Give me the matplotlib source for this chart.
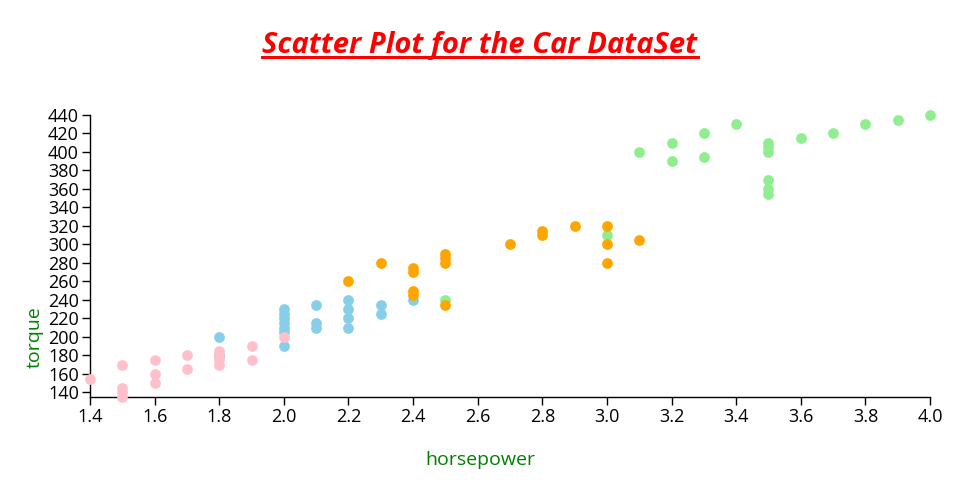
import matplotlib
matplotlib.use("Agg")
import matplotlib.pyplot as plt
from matplotlib.lines import Line2D

plt.rcParams['font.family'] = ['Open Sans', 'DejaVu Sans']

# Data: (horsepower, torque) per group
pink_hp = [1.4, 1.5, 1.5, 1.5, 1.5, 1.6, 1.6, 1.6, 1.7, 1.7, 1.8, 1.8, 1.8, 1.8, 1.9, 1.9, 2.0]
pink_tq = [155, 170, 145, 140, 135, 175, 160, 150, 180, 165, 185, 178, 175, 170, 190, 175, 200]

blue_hp = [1.8, 1.8, 2.0, 2.0, 2.0, 2.0, 2.0, 2.0, 2.0, 2.1, 2.1, 2.1, 2.2, 2.2, 2.2, 2.2, 2.3, 2.3, 2.4]
blue_tq = [200, 180, 230, 225, 220, 215, 210, 205, 190, 235, 215, 210, 240, 230, 220, 210, 235, 225, 240]

orange_hp = [2.2, 2.3, 2.4, 2.4, 2.4, 2.4, 2.5, 2.5, 2.5, 2.5, 2.7, 2.8, 2.8, 2.9, 3.0, 3.0, 3.0, 3.1]
orange_tq = [260, 280, 275, 270, 250, 245, 290, 285, 280, 235, 300, 315, 310, 320, 320, 300, 280, 305]

green_hp = [2.5, 3.0, 3.1, 3.2, 3.2, 3.3, 3.3, 3.4, 3.5, 3.5, 3.5, 3.5, 3.5, 3.5, 3.6, 3.7, 3.8, 3.9, 4.0]
green_tq = [240, 310, 400, 410, 390, 420, 395, 430, 410, 405, 400, 370, 360, 355, 415, 420, 430, 435, 440]

x_ticks = [1.4, 1.6, 1.8, 2.0, 2.2, 2.4, 2.6, 2.8, 3.0, 3.2, 3.4, 3.6, 3.8, 4.0]
y_ticks = list(range(140, 441, 20))

fig = plt.figure(figsize=(9.6, 5.0), dpi=100)
ax = fig.add_axes([0.09375, 0.206, 0.875, 0.564])

s = 60
for hp, tq, col in [(blue_hp, blue_tq, '#87ceeb'), (pink_hp, pink_tq, '#ffc0cb'),
                    (green_hp, green_tq, '#90ee90'), (orange_hp, orange_tq, '#ffa500')]:
    ax.scatter(hp, tq, s=s, color=col, linewidths=0, zorder=3, clip_on=False)

ax.set_xlim(1.4, 4.0)
ax.set_ylim(135, 440)
ax.set_xticks(x_ticks)
ax.set_xticklabels([f"{v:.1f}" for v in x_ticks])
ax.set_yticks(y_ticks)
ax.set_yticklabels([str(v) for v in y_ticks])
for sp in ['top', 'right']:
    ax.spines[sp].set_visible(False)
for sp in ['left', 'bottom']:
    ax.spines[sp].set_color('black')
    ax.spines[sp].set_linewidth(1)
ax.tick_params(axis='both', length=6, width=1, color='black', labelsize=13,
               labelcolor='black', pad=2)

fig.text(0.5, 0.080, 'horsepower', color='green', fontsize=14, ha='center', va='center')
fig.text(0.036, 0.326, 'torque', color='green', fontsize=14, ha='center', va='center',
         rotation=90)

title = fig.text(0.5, 0.91, 'Scatter Plot for the Car DataSet', color='#ff0000',
                 fontsize=21, fontweight='bold', fontstyle='italic',
                 ha='center', va='center')

fig.canvas.draw()
bb = title.get_window_extent(renderer=fig.canvas.get_renderer())
W, H = fig.bbox.width, fig.bbox.height
y_line = (500 - 57) / 500
fig.add_artist(Line2D([bb.x0 / W, bb.x1 / W], [y_line, y_line], color='#ff0000',
                      linewidth=2.2, transform=fig.transFigure))

fig.savefig('out.png', dpi=100)
